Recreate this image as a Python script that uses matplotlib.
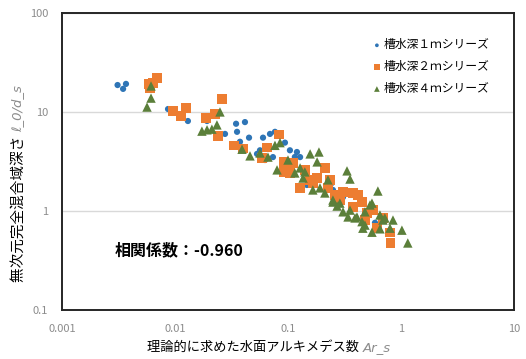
import matplotlib
matplotlib.use('Agg')
import matplotlib.pyplot as plt
from matplotlib.ticker import FixedLocator, FixedFormatter, NullLocator

plt.rcParams['font.family'] = ['Noto Sans CJK JP', 'DejaVu Sans']

# 槽水深1m
x1 = [0.0031, 0.00347, 0.00368, 0.00867, 0.0111, 0.0130, 0.0192, 0.0277, 0.0347, 0.0416,
      0.0354, 0.0452, 0.0376, 0.0601, 0.0693, 0.0767, 0.094, 0.0565, 0.0532, 0.120,
      0.115, 0.092, 0.091, 0.0736, 0.128, 0.147, 0.245, 0.25, 0.307, 0.589,
      0.104, 0.0626]
y1 = [18.7, 17.1, 19.2, 10.7, 8.9, 8.1, 8.1, 6.0, 7.6, 7.9,
      6.3, 5.5, 5.0, 5.5, 6.0, 6.3, 4.9, 4.1, 3.77, 3.94,
      3.51, 3.13, 2.78, 3.5, 3.5, 1.83, 1.92, 1.63, 1.38, 0.76,
      4.1, 3.27]

# 槽水深2m
x2 = [0.00589, 0.00639, 0.00693, 0.0060, 0.0096, 0.0113, 0.0125, 0.0188, 0.0261, 0.0226,
      0.0240, 0.0333, 0.0400, 0.0832, 0.0652, 0.0589, 0.091, 0.111, 0.104, 0.091,
      0.181, 0.212, 0.128, 0.166, 0.226, 0.307, 0.376, 0.416, 0.288, 0.376,
      0.452, 0.500, 0.565, 0.693, 0.614, 0.80, 0.81, 0.480, 0.141, 0.235,
      0.157, 0.26]
y2 = [19.2, 19.6, 22.0, 17.5, 10.2, 9.1, 11.0, 8.7, 13.5, 9.5,
      5.7, 4.6, 4.3, 5.9, 4.4, 3.43, 3.13, 3.05, 2.42, 2.48,
      2.15, 2.72, 1.71, 1.92, 1.71, 1.56, 1.52, 1.45, 1.29, 1.10,
      1.23, 0.95, 1.02, 0.85, 0.67, 0.61, 0.475, 0.81, 2.6, 2.06,
      2.06, 1.45]

# 槽水深4m
x3 = [0.00613, 0.00613, 0.00565, 0.0173, 0.0192, 0.0212, 0.0235, 0.0250, 0.0392, 0.0461,
      0.0767, 0.085, 0.0665, 0.0565, 0.080, 0.115, 0.128, 0.141, 0.157, 0.188,
      0.181, 0.333, 0.354, 0.226, 0.192, 0.212, 0.25, 0.288, 0.354, 0.408,
      0.480, 0.554, 0.625, 0.48, 0.554, 0.652, 0.72, 0.85, 0.80, 1.02,
      1.15, 0.166, 0.136, 0.25, 0.272, 0.307, 0.340, 0.392, 0.452, 0.46,
      0.532, 0.693, 0.652, 0.1]
y3 = [18.3, 13.8, 11.2, 6.4, 6.6, 6.7, 7.4, 10.0, 4.2, 3.6,
      4.6, 4.9, 3.5, 3.85, 2.6, 2.42, 2.72, 2.48, 3.77, 3.94,
      3.13, 2.54, 2.1, 2.06, 1.71, 1.52, 1.29, 1.2, 1.02, 0.87,
      0.98, 1.2, 1.59, 0.72, 0.61, 0.91, 0.85, 0.81, 0.67, 0.64,
      0.475, 1.63, 2.15, 1.23, 1.12, 0.98, 0.87, 0.85, 0.78, 0.67,
      1.15, 0.81, 0.66, 3.27]

labels = ['槽水深１ｍシリーズ', '槽水深２ｍシリーズ', '槽水深４ｍシリーズ']
xticks = [0.001, 0.01, 0.1, 1, 10]
xticklabels = ['0.001', '0.01', '0.1', '1', '10']
yticks = [0.1, 1, 10, 100]
yticklabels = ['0.1', '1', '10', '100']

fig = plt.figure(figsize=(5.26, 3.59), dpi=100)
ax = fig.add_axes([0.118, 0.1365, 0.859, 0.8275])

ax.scatter(x1, y1, s=20, marker='o', color='#2E75B6', edgecolors='none', label=labels[0], zorder=3)
ax.scatter(x2, y2, s=46, marker='s', color='#ED7D31', edgecolors='none', label=labels[1], zorder=4)
ax.scatter(x3, y3, s=46, marker='^', color='#5B7F3A', edgecolors='none', label=labels[2], zorder=5)

ax.set_xscale('log')
ax.set_yscale('log')
ax.set_xlim(0.001, 10)
ax.set_ylim(0.1, 100)
ax.xaxis.set_major_locator(FixedLocator(xticks))
ax.xaxis.set_major_formatter(FixedFormatter(xticklabels))
ax.yaxis.set_major_locator(FixedLocator(yticks))
ax.yaxis.set_major_formatter(FixedFormatter(yticklabels))
ax.xaxis.set_minor_locator(NullLocator())
ax.yaxis.set_minor_locator(NullLocator())
ax.tick_params(length=0, labelsize=8, labelcolor='#8c8c8c', pad=10)
ax.grid(axis='y', color='#d9d9d9', linewidth=1)
ax.set_axisbelow(True)
for sp in ax.spines.values():
    sp.set_color('#262626')
    sp.set_linewidth(1.4)

leg = ax.legend(loc='upper right', bbox_to_anchor=(0.97, 0.95), frameon=False, fontsize=8.5,
                handletextpad=0.1, labelspacing=0.75, handlelength=1.0, markerscale=0.6)

ax.text(0.117, 0.2, '相関係数：-0.960', transform=ax.transAxes, fontsize=11.5,
        fontweight='bold', va='center', ha='left')

# x軸ラベル
t1 = fig.text(0.28, 0.015, '理論的に求めた水面アルキメデス数 ', fontsize=9.5, ha='left', va='bottom')
ax.annotate('Ar_s', xy=(1, 0), xycoords=t1, fontsize=9.5, style='italic', color='#8c8c8c',
            family='DejaVu Sans', ha='left', va='bottom')

# y軸ラベル
t2 = fig.text(0.022, 0.215, '無次元完全混合域深さ ', fontsize=10.5, rotation=90, ha='left', va='bottom')
ax.annotate('ℓ_0/d_s', xy=(0, 1), xycoords=t2, fontsize=9.5, style='italic', color='#8c8c8c',
            family='DejaVu Sans', rotation=90, ha='left', va='bottom')

fig.savefig('out.png', dpi=100)
